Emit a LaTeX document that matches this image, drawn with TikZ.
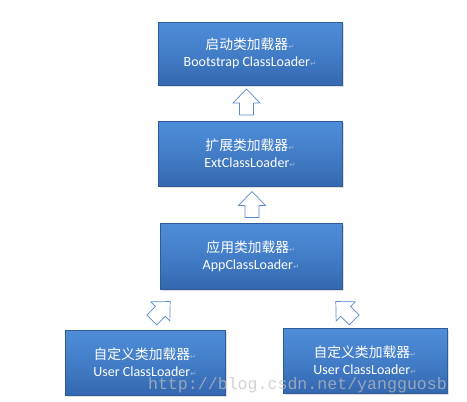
\documentclass[tikz,border=0pt]{standalone}
\usepackage{fontspec}
\setmainfont{Carlito}
\newfontfamily\cjk{Noto Sans CJK SC}
\newfontfamily\dejavu{DejaVu Sans}
\newfontfamily\wmfont{Liberation Mono}
\usetikzlibrary{calc,shadows}
\definecolor{boxtop}{HTML}{4F8DD8}
\definecolor{boxmid}{HTML}{437DC8}
\definecolor{boxbot}{HTML}{3468B0}
\definecolor{boxline}{HTML}{2D5C98}
\definecolor{arrline}{HTML}{5B8BCB}
\definecolor{retcol}{HTML}{9DB4D6}
\newcommand{\retmark}{{\color{retcol}\dejavu\fontsize{7.5}{7.5}\selectfont ↵}}
\newcommand{\cnline}[1]{{\cjk\fontsize{13.8}{16}\selectfont #1}\retmark}
\newcommand{\enline}[1]{{\fontsize{14}{15}\selectfont #1}\retmark}
\tikzset{
  loaderbox/.style={rectangle, draw=boxline, line width=0.6pt,
    top color=boxtop, bottom color=boxbot, middle color=boxmid,
    text=white, align=center, inner sep=0pt,
    drop shadow={opacity=0.25, shadow xshift=1.5pt, shadow yshift=-2pt}},
  arrowbody/.style={draw=arrline, fill=white, line width=0.7pt, line join=miter},
  blockarrow/.pic={
    \draw[arrowbody] (-7,13) -- (-7,1) -- (-13.5,1) -- (0,-13) -- (13.5,1)
      -- (7,1) -- (7,13) -- cycle;
  },
}
\begin{document}
\begin{tikzpicture}[x=1pt,y=-1pt]
\useasboundingbox (0,0) rectangle (467,402);
\node[loaderbox, minimum width=184pt, minimum height=63pt] (b1) at (250,53.5)
  {\cnline{启动类加载器}\\[5pt]\enline{Bootstrap ClassLoader}};
\node[loaderbox, minimum width=184pt, minimum height=65pt] (b2) at (250,153.5)
  {\cnline{扩展类加载器}\\[5pt]\enline{ExtClassLoader}};
\node[loaderbox, minimum width=182pt, minimum height=66pt] (b3) at (251,256)
  {\cnline{应用类加载器}\\[5pt]\enline{AppClassLoader}};
\node[loaderbox, minimum width=160pt, minimum height=65pt] (b4) at (145,362.5)
  {\cnline{自定义类加载器}\\[5pt]\enline{User ClassLoader}};
\node[loaderbox, minimum width=164pt, minimum height=65pt] (b5) at (365,360.5)
  {\cnline{自定义类加载器}\\[5pt]\enline{User ClassLoader}};
\coordinate (a1) at ($(b1.south)!0.5!(b2.north)+(-3.5,-1)$);
\coordinate (a2) at ($(b2.south)!0.5!(b3.north)+(1.5,0)$);
\coordinate (a3) at ($(b4.north)+(16,-19)$);
\coordinate (a4) at ($(b5.north)+(-20,-17)$);
\pic at (a1) {blockarrow};
\pic at (a2) {blockarrow};
\pic[rotate=-45] at (a3) {blockarrow};
\pic[rotate=45] at (a4) {blockarrow};
\node[text=gray!50, opacity=0.7, font=\wmfont\fontsize{16.6}{18}\selectfont, inner sep=0pt]
  (wm) at (297.5,385) {http://blog.csdn.net/yangguosb};
\end{tikzpicture}
\end{document}
